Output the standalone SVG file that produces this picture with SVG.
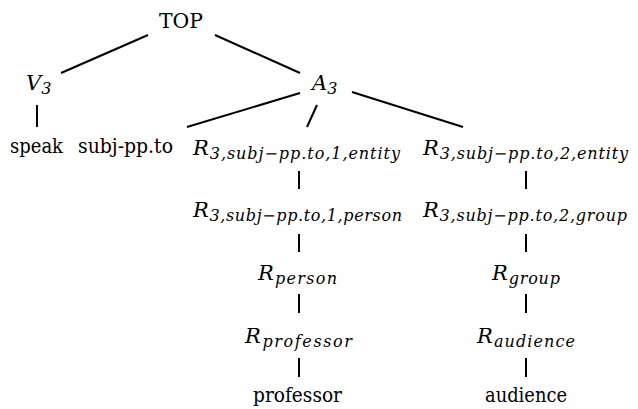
<svg xmlns="http://www.w3.org/2000/svg" width="638" height="409" viewBox="0 0 638 409">
<style>
.rm{font-family:'DejaVu Serif',serif;font-size:21px;fill:#000}
.mi{font-family:'DejaVu Serif',serif;font-style:italic;font-size:21px;fill:#000}
.sub{font-size:16px}
.edge{stroke:#000;stroke-width:2;fill:none;stroke-linecap:butt}
</style>
<rect width="638" height="409" fill="#fff"/>
<g id="connectors">
<line class="edge" x1="148" y1="35" x2="61" y2="73"/>
<line class="edge" x1="215" y1="35" x2="300" y2="73"/>
<line class="edge" x1="37" y1="105" x2="37" y2="127"/>
<line class="edge" x1="300" y1="93" x2="187" y2="127"/>
<line class="edge" x1="317" y1="105" x2="307" y2="127"/>
<line class="edge" x1="352" y1="92" x2="463" y2="127"/>
<line class="edge" x1="299" y1="171" x2="299" y2="189"/>
<line class="edge" x1="299" y1="234" x2="299" y2="252"/>
<line class="edge" x1="299" y1="294" x2="299" y2="313"/>
<line class="edge" x1="299" y1="358" x2="299" y2="377"/>
<line class="edge" x1="526" y1="171" x2="526" y2="189"/>
<line class="edge" x1="526" y1="234" x2="526" y2="252"/>
<line class="edge" x1="526" y1="294" x2="526" y2="313"/>
<line class="edge" x1="526" y1="358" x2="526" y2="377"/>
</g>
<g id="top"><text class="rm" x="159" y="28" textLength="44" lengthAdjust="spacingAndGlyphs">TOP</text></g>
<g id="v3"><text class="mi" x="26" y="90">V<tspan class="sub" dy="4" font-size="15">3</tspan></text></g>
<g id="a3"><text class="mi" x="312" y="90">A<tspan class="sub" dy="4" font-size="15">3</tspan></text></g>
<g id="speak"><text class="rm" x="10" y="153" textLength="53" lengthAdjust="spacingAndGlyphs">speak</text></g>
<g id="subj"><text class="rm" x="78" y="153" textLength="95" lengthAdjust="spacingAndGlyphs">subj-pp.to</text></g>
<g id="r1entity"><text class="mi" x="193" y="155" textLength="207" lengthAdjust="spacing">R<tspan class="sub" dy="4">3,subj−pp.to,1,entity</tspan></text></g>
<g id="r2entity"><text class="mi" x="423" y="155" textLength="205" lengthAdjust="spacing">R<tspan class="sub" dy="4">3,subj−pp.to,2,entity</tspan></text></g>
<g id="r1person"><text class="mi" x="193" y="217" textLength="209" lengthAdjust="spacing">R<tspan class="sub" dy="4">3,subj−pp.to,1,person</tspan></text></g>
<g id="r2group"><text class="mi" x="423" y="217" textLength="204" lengthAdjust="spacing">R<tspan class="sub" dy="4">3,subj−pp.to,2,group</tspan></text></g>
<g id="rperson"><text class="mi" x="258" y="280" textLength="79" lengthAdjust="spacing">R<tspan class="sub" dy="4">person</tspan></text></g>
<g id="rgroup"><text class="mi" x="492" y="280" textLength="68" lengthAdjust="spacing">R<tspan class="sub" dy="4">group</tspan></text></g>
<g id="rprofessor"><text class="mi" x="245" y="343" textLength="107" lengthAdjust="spacing">R<tspan class="sub" dy="4">professor</tspan></text></g>
<g id="raudience"><text class="mi" x="477" y="343" textLength="98" lengthAdjust="spacing">R<tspan class="sub" dy="4">audience</tspan></text></g>
<g id="professor"><text class="rm" x="253" y="402" textLength="89" lengthAdjust="spacingAndGlyphs">professor</text></g>
<g id="audience"><text class="rm" x="485" y="402" textLength="82" lengthAdjust="spacingAndGlyphs">audience</text></g>
</svg>
